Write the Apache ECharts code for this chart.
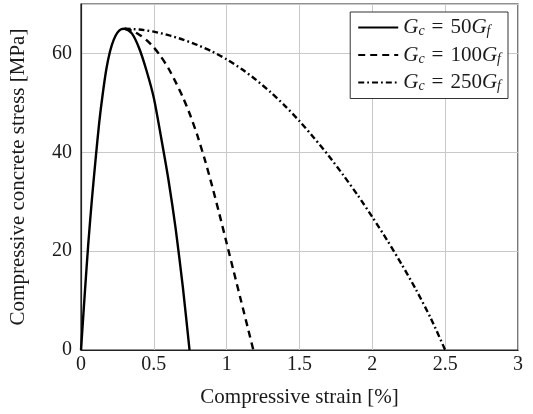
<!DOCTYPE html>
<html>
<head>
<meta charset="utf-8">
<script src="https://cdn.jsdelivr.net/npm/echarts@6/dist/echarts.min.js"></script>
<style>
html,body{margin:0;padding:0;background:#fff;}
#chart{width:533px;height:414px;}
</style>
</head>
<body>
<div id="chart"></div>
<script>
// Data
const seriesNames = ['Gc = 50Gf', 'Gc = 100Gf', 'Gc = 250Gf'];
const legendFactors = ['50', '100', '250'];

const strain50 = [0, 0.025, 0.05, 0.075, 0.1, 0.125, 0.15, 0.175, 0.2, 0.225, 0.25, 0.275, 0.3, 0.35, 0.4, 0.45, 0.5, 0.55, 0.6, 0.65, 0.7, 0.745];
const stress50 = [0, 11, 21.5, 30.5, 38.5, 46, 52, 57, 60.5, 62.8, 64.2, 64.9, 65, 64, 61, 56.5, 51, 43, 34.5, 24.5, 12.5, 0];

const strain100 = [0.3, 0.35, 0.4, 0.45, 0.5, 0.55, 0.6, 0.65, 0.7, 0.75, 0.8, 0.85, 0.9, 0.95, 1.0, 1.05, 1.1, 1.15, 1.183];
const stress100 = [65, 64.6, 63.8, 62.7, 61.2, 59.3, 57, 54.2, 51.1, 47.5, 43.3, 38.5, 33.2, 27.5, 21.6, 15.7, 9.8, 3.9, 0];

const strain250 = [0.3, 0.4, 0.5, 0.6, 0.7, 0.8, 0.9, 1.0, 1.1, 1.2, 1.3, 1.4, 1.5, 1.6, 1.7, 1.8, 1.9, 2.0, 2.1, 2.2, 2.3, 2.4, 2.5];
const stress250 = [65, 64.85, 64.4, 63.7, 62.8, 61.7, 60.4, 58.8, 56.9, 54.7, 52.2, 49.4, 46.3, 42.9, 39.3, 35.4, 31.3, 26.9, 22.3, 17.4, 12.2, 6.5, 0];

const xTicks = [0, 0.5, 1, 1.5, 2, 2.5, 3];
const yTicks = [0, 20, 40, 60];

function pairs(xs, ys) { return xs.map((x, i) => [x, ys[i]]); }

const FONT = '"Liberation Serif", "DejaVu Serif", serif';
const TXT = '#1a1a1a';

const chart = echarts.init(document.getElementById('chart'), null, {renderer: 'canvas'});

const lineStyles = [
  {type: 'solid'},
  {type: [7, 5]},
  {type: [6, 3, 1.8, 3]}
];

const dataSets = [pairs(strain50, stress50), pairs(strain100, stress100), pairs(strain250, stress250)];

chart.setOption({
  animation: false,
  backgroundColor: '#fff',
  grid: {
    left: 78, right: 15, top: 4, bottom: 64,
    show: true, borderColor: '#222', borderWidth: 1.2,
    containLabel: false
  },
  xAxis: {
    type: 'value', min: 0, max: 3, interval: 0.5,
    name: 'Compressive strain [%]',
    nameLocation: 'middle', nameGap: 37,
    nameTextStyle: {fontFamily: FONT, fontSize: 21, color: TXT},
    axisLine: {show: true, onZero: false, lineStyle: {color: '#222', width: 1.2}},
    axisTick: {show: false},
    axisLabel: {fontFamily: FONT, fontSize: 20, color: TXT, margin: 5,
      formatter: v => xTicks.includes(v) ? String(v) : ''},
    splitLine: {show: true, lineStyle: {color: '#c9c9c9', width: 1}}
  },
  yAxis: {
    type: 'value', min: 0, max: 70, interval: 20,
    name: 'Compressive concrete stress [MPa]',
    nameLocation: 'middle', nameGap: 52, nameRotate: 90,
    nameTextStyle: {fontFamily: FONT, fontSize: 21, color: TXT},
    axisLine: {show: true, onZero: false, lineStyle: {color: '#222', width: 1.2}},
    axisTick: {show: false},
    axisLabel: {fontFamily: FONT, fontSize: 20, color: TXT, margin: 9, showMaxLabel: false,
      formatter: v => yTicks.includes(v) ? String(v) : ''},
    splitLine: {show: true, lineStyle: {color: '#c9c9c9', width: 1}}
  },
  legend: {
    orient: 'vertical',
    right: 25, top: 12,
    padding: [5, 7, 5, 7],
    itemGap: 6,
    itemWidth: 40, itemHeight: 14,
    borderColor: '#333', borderWidth: 1,
    backgroundColor: '#fff',
    itemStyle: {opacity: 0},
    data: seriesNames,
    formatter: function (name) {
      const i = seriesNames.indexOf(name);
      return '{i|G}{s|c}{t|\u2004=\u2004' + legendFactors[i] + '}{i|G}{s|f}';
    },
    textStyle: {
      fontFamily: FONT, fontSize: 21, color: TXT,
      rich: {
        i: {fontFamily: FONT, fontSize: 21, fontStyle: 'italic', color: TXT, lineHeight: 22, verticalAlign: 'middle'},
        t: {fontFamily: FONT, fontSize: 21, color: TXT, lineHeight: 22, verticalAlign: 'middle'},
        s: {fontFamily: FONT, fontSize: 14, fontStyle: 'italic', color: TXT, lineHeight: 13, verticalAlign: 'bottom'}
      }
    }
  },
  series: dataSets.map((d, i) => ({
    name: seriesNames[i],
    type: 'line',
    data: d,
    smooth: 0.25,
    showSymbol: false,
    symbol: 'none',
    color: '#000',
    lineStyle: Object.assign({color: '#000', width: 2.4}, lineStyles[i]),
    z: 3 - i
  }))
});
</script>
</body>
</html>
